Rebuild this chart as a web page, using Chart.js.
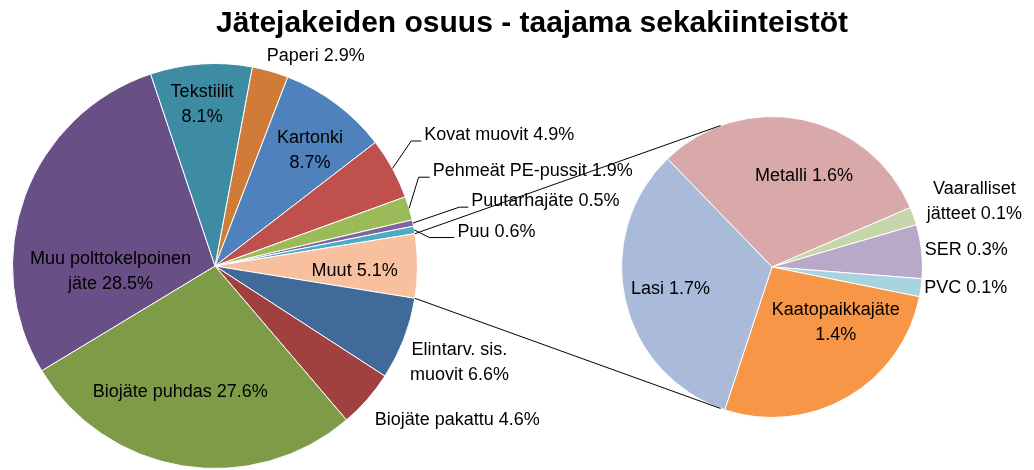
<!DOCTYPE html>
<html>
<head>
<meta charset="utf-8">
<script src="https://cdn.jsdelivr.net/npm/chart.js@4"></script>
<style>
  html, body { margin: 0; padding: 0; background: #fff; }
  #wrap { position: relative; width: 1034px; height: 470px; }
  #wrap canvas { position: absolute; left: 0; top: 0; }
</style>
</head>
<body>
<div id="wrap">
  <canvas id="mainPie" width="1034" height="470"></canvas>
  <canvas id="subPie" width="1034" height="470"></canvas>
</div>
<script>
const chartTitle = 'Jätejakeiden osuus - taajama sekakiinteistöt';

const mainLabels = ['Paperi', 'Kartonki', 'Kovat muovit', 'Pehmeät PE-pussit', 'Puutarhajäte', 'Puu',
  'Muut', 'Elintarv. sis. muovit', 'Biojäte pakattu', 'Biojäte puhdas', 'Muu polttokelpoinen jäte', 'Tekstiilit'];
const mainValues = [2.9, 8.7, 4.9, 1.9, 0.5, 0.6, 5.1, 6.6, 4.6, 27.6, 28.5, 8.1];
const mainColors = ['#D07B38', '#4F81BD', '#C0504D', '#9BBB59', '#8064A2', '#4BACC6',
  '#F9C0A0', '#3F6A9A', '#A0413F', '#7E9B48', '#684F86', '#3E8CA4'];

const subLabels = ['Metalli', 'Vaaralliset jätteet', 'SER', 'PVC', 'Kaatopaikkajäte', 'Lasi'];
const subValues = [1.6, 0.1, 0.3, 0.1, 1.4, 1.7];
const subColors = ['#D9A8A8', '#C5D6AA', '#B7A9C7', '#A8D3DF', '#F79646', '#AABBD9'];

const splitIndex = 6; // 'Muut' is opened up in the second pie

// label placement: d = shift from slice middle (deg), rf = radius factor,
// wrap = words on first line, leader = length of horizontal leader
const mainPlace = [
  { d: 9.8, rf: 1.15 },
  { d: 2.6, rf: 0.74, wrap: 1 },
  { d: -3.7, rf: 1.149, leader: 10 },
  { d: -7.0, rf: 1.097, leader: 11 },
  { d: -1.3, rf: 1.241, leader: 9 },
  { d: 2.7, rf: 1.068, leader: 25 },
  { d: 2, rf: 0.69 },
  { d: 0.5, rf: 1.298, wrap: 2 },
  { d: -8.8, rf: 1.417 },
  { d: 6.3, rf: 0.644 },
  { d: -23.1, rf: 0.517, wrap: 2 },
  { d: -0.6, rf: 0.80, wrap: 1 }
];
const subPlace = [
  { d: 8, rf: 0.64 },
  { d: 1.75, rf: 1.414, wrap: 1 },
  { d: 0.9, rf: 1.296 },
  { d: -1.85, rf: 1.295 },
  { d: -18.65, rf: 0.563, wrap: 1 },
  { d: 0.65, rf: 0.69 }
];

const FONT = '18px "Liberation Sans", Arial, sans-serif';

function labelText(name, v, wrap) {
  const words = (name + ' ' + v.toFixed(1) + '%').split(' ');
  if (!wrap) return [words.join(' ')];
  return [words.slice(0, wrap).join(' '), words.slice(wrap).join(' ')];
}

function pieLabels(names, values, place) {
  return {
    id: 'pieLabels',
    afterDatasetsDraw(chart) {
      const ctx = chart.ctx;
      const arcs = chart.getDatasetMeta(0).data;
      ctx.save();
      ctx.font = FONT;
      ctx.fillStyle = '#000';
      ctx.strokeStyle = '#000';
      ctx.lineWidth = 1;
      ctx.textBaseline = 'middle';
      arcs.forEach((arc, i) => {
        const p = place[i];
        const mid = (arc.startAngle + arc.endAngle) / 2;
        const a = mid + p.d * Math.PI / 180;
        const r = arc.outerRadius;
        const x = arc.x + Math.cos(a) * r * p.rf;
        const y = arc.y + Math.sin(a) * r * p.rf;
        const lines = labelText(names[i], values[i], p.wrap);
        if (p.leader) {
          ctx.beginPath();
          ctx.moveTo(arc.x + Math.cos(mid) * r, arc.y + Math.sin(mid) * r);
          ctx.lineTo(x, y);
          ctx.lineTo(x + p.leader, y);
          ctx.stroke();
          ctx.textAlign = 'left';
          ctx.fillText(lines[0], x + p.leader + 3, y - 6);
        } else {
          ctx.textAlign = 'center';
          lines.forEach((t, k) => ctx.fillText(t, x, y + (k - (lines.length - 1) / 2) * 25));
        }
      });
      ctx.restore();
    }
  };
}

const titlePlugin = {
  id: 'bigTitle',
  afterDraw(chart) {
    const ctx = chart.ctx;
    ctx.save();
    ctx.font = 'bold 30px "Liberation Sans", Arial, sans-serif';
    ctx.fillStyle = '#000';
    ctx.textAlign = 'center';
    ctx.textBaseline = 'middle';
    ctx.fillText(chartTitle, chart.width / 2 + 15, 24);
    ctx.restore();
  }
};

const total = mainValues.reduce((a, b) => a + b, 0);
const before = mainValues.slice(0, splitIndex).reduce((a, b) => a + b, 0);
const mainRotation = 90 - (before + mainValues[splitIndex] / 2) / total * 360;

const baseOpts = {
  responsive: false,
  animation: false,
  events: [],
  plugins: { legend: { display: false }, tooltip: { enabled: false }, title: { display: false } }
};

const mainChart = new Chart(document.getElementById('mainPie'), {
  type: 'pie',
  data: {
    labels: mainLabels,
    datasets: [{ data: mainValues, backgroundColor: mainColors, borderColor: '#fff', borderWidth: 1 }]
  },
  options: Object.assign({}, baseOpts, {
    rotation: mainRotation,
    layout: { padding: { left: 12, top: 63, right: 616, bottom: 1 } }
  }),
  plugins: [pieLabels(mainLabels, mainValues, mainPlace), titlePlugin]
});

// lines from the split slice to the second pie
const connector = {
  id: 'connector',
  afterDraw(chart) {
    const m = mainChart.getDatasetMeta(0).data[splitIndex];
    const s = chart.getDatasetMeta(0).data[0];
    const ctx = chart.ctx;
    const toRad = deg => (deg - 90) * Math.PI / 180;
    const pts = [[m.startAngle, toRad(340)], [m.endAngle, toRad(200)]];
    ctx.save();
    ctx.strokeStyle = '#000';
    ctx.lineWidth = 1;
    pts.forEach(([a1, a2]) => {
      ctx.beginPath();
      ctx.moveTo(m.x + Math.cos(a1) * m.outerRadius, m.y + Math.sin(a1) * m.outerRadius);
      ctx.lineTo(s.x + Math.cos(a2) * s.outerRadius, s.y + Math.sin(a2) * s.outerRadius);
      ctx.stroke();
    });
    ctx.restore();
  }
};

new Chart(document.getElementById('subPie'), {
  type: 'pie',
  data: {
    labels: subLabels,
    datasets: [{ data: subValues, backgroundColor: subColors, borderColor: '#fff', borderWidth: 1 }]
  },
  options: Object.assign({}, baseOpts, {
    rotation: -44,
    layout: { padding: { left: 621, top: 116, right: 111, bottom: 52 } }
  }),
  plugins: [pieLabels(subLabels, subValues, subPlace), connector]
});
</script>
</body>
</html>
